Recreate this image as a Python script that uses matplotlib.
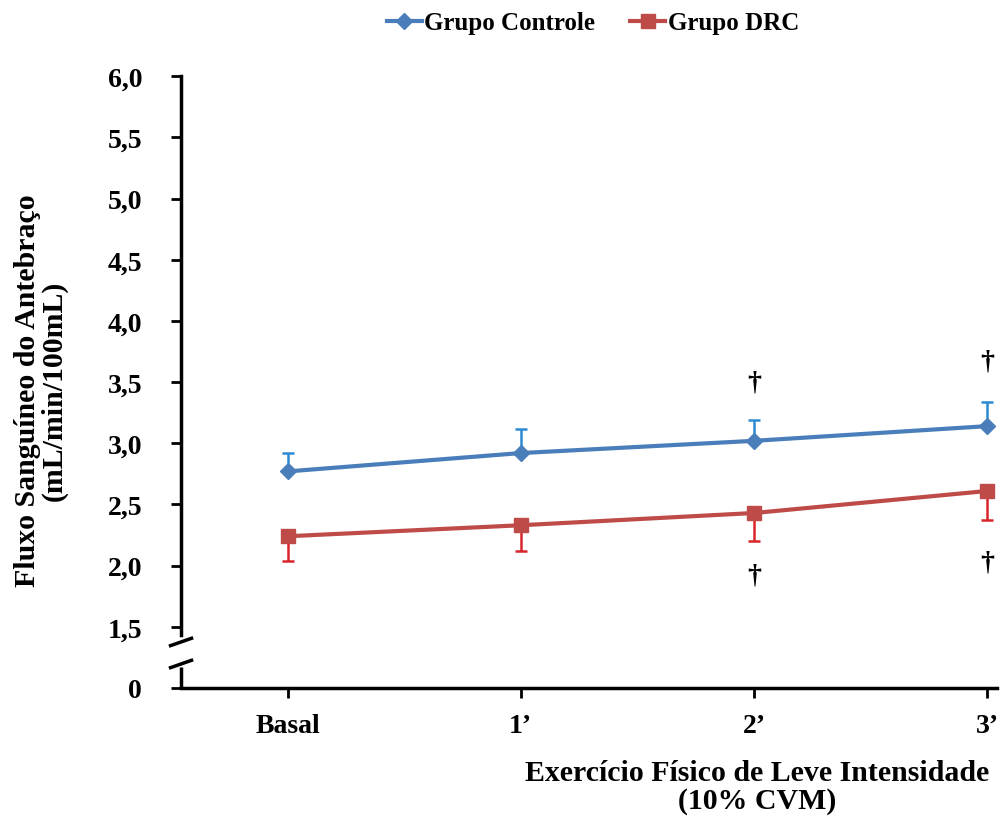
import matplotlib
matplotlib.use("Agg")
import matplotlib.pyplot as plt

# dados
momentos = ["Basal", "1\u2019", "2\u2019", "3\u2019"]
controle = [2.77, 2.92, 3.02, 3.14]
controle_ep = [0.15, 0.20, 0.17, 0.20]
drc = [2.24, 2.33, 2.43, 2.61]
drc_ep = [0.20, 0.21, 0.23, 0.24]

# marcas de significância (†): índice do momento e altura
adaga_controle = {2: 3.50, 3: 3.67}
adaga_drc = {2: 1.92, 3: 2.03}

ticks_y = [1.0, 1.5, 2.0, 2.5, 3.0, 3.5, 4.0, 4.5, 5.0, 5.5, 6.0]
rotulos_y = ["0", "1,5", "2,0", "2,5", "3,0", "3,5", "4,0", "4,5", "5,0", "5,5", "6,0"]

AZUL = "#4A7EBB"
AZUL_ERRO = "#2C8AD3"
VERMELHO = "#BE4B48"
VERMELHO_ERRO = "#D8252B"

plt.rcParams["font.family"] = ["Liberation Serif", "DejaVu Serif"]
plt.rcParams["font.weight"] = "bold"

fig = plt.figure(figsize=(10.08, 8.2), dpi=100)
ax = fig.add_axes([0.1796, 0.1598, 0.809, 0.746])

x = list(range(len(momentos)))

ax.errorbar(x, controle, yerr=[[0] * 4, controle_ep], fmt="none",
            ecolor=AZUL_ERRO, elinewidth=1.8, capsize=4, capthick=1.8, zorder=2)
ax.errorbar(x, drc, yerr=[drc_ep, [0] * 4], fmt="none",
            ecolor=VERMELHO_ERRO, elinewidth=1.8, capsize=4, capthick=1.8, zorder=2)
ax.plot(x, controle, color=AZUL, lw=3, marker="D", ms=8,
        label="Grupo Controle", zorder=3)
ax.plot(x, drc, color=VERMELHO, lw=3, marker="s", ms=10,
        label="Grupo DRC", zorder=3)

for i, yv in adaga_controle.items():
    ax.text(i, yv, "\u2020", ha="center", va="center", fontsize=20, fontweight="bold")
for i, yv in adaga_drc.items():
    ax.text(i, yv, "\u2020", ha="center", va="center", fontsize=20, fontweight="bold")

ax.set_xlim(-0.457, 3.04)
ax.set_ylim(1.0, 6.0)
ax.set_xticks(x)
ax.set_xticklabels(momentos)
ax.set_yticks(ticks_y)
ax.set_yticklabels(rotulos_y)
ax.tick_params(axis="both", direction="out", width=2, length=7, labelsize=20)
ax.tick_params(axis="x", pad=11)
ax.tick_params(axis="y", pad=21)

for lado in ["top", "right"]:
    ax.spines[lado].set_visible(False)
ax.spines["bottom"].set_linewidth(2.5)
ax.spines["left"].set_linewidth(2.5)
# eixo y interrompido entre 0 e 1,5
ax.spines["left"].set_bounds(1.43, 6.0)
x0 = -0.457
ax.plot([x0, x0], [1.0, 1.17], color="black", lw=2.5, clip_on=False,
        solid_capstyle="butt")
dx = 0.045
for yb in [1.196, 1.376]:
    ax.plot([x0 - dx, x0 + dx], [yb - 0.03, yb + 0.03], color="black",
            lw=2.5, clip_on=False)

ax.set_ylabel("Fluxo Sanguíneo do Antebraço\n(mL/min/100mL)", fontsize=21.5,
              fontweight="bold", linespacing=0.95)
ax.yaxis.set_label_coords(-0.139, 0.487)
ax.set_xlabel("Exercício Físico de Leve Intensidade\n(10% CVM)", fontsize=21.5,
              fontweight="bold", linespacing=1.05)
ax.xaxis.set_label_coords(0.706, -0.116)

fig.legend(loc="center", bbox_to_anchor=(0.588, 0.971), ncol=2, frameon=False,
           fontsize=18, handlelength=1.4, columnspacing=1.4, handletextpad=0.1,
           borderaxespad=0, borderpad=0)

fig.savefig("out.png", dpi=100)
